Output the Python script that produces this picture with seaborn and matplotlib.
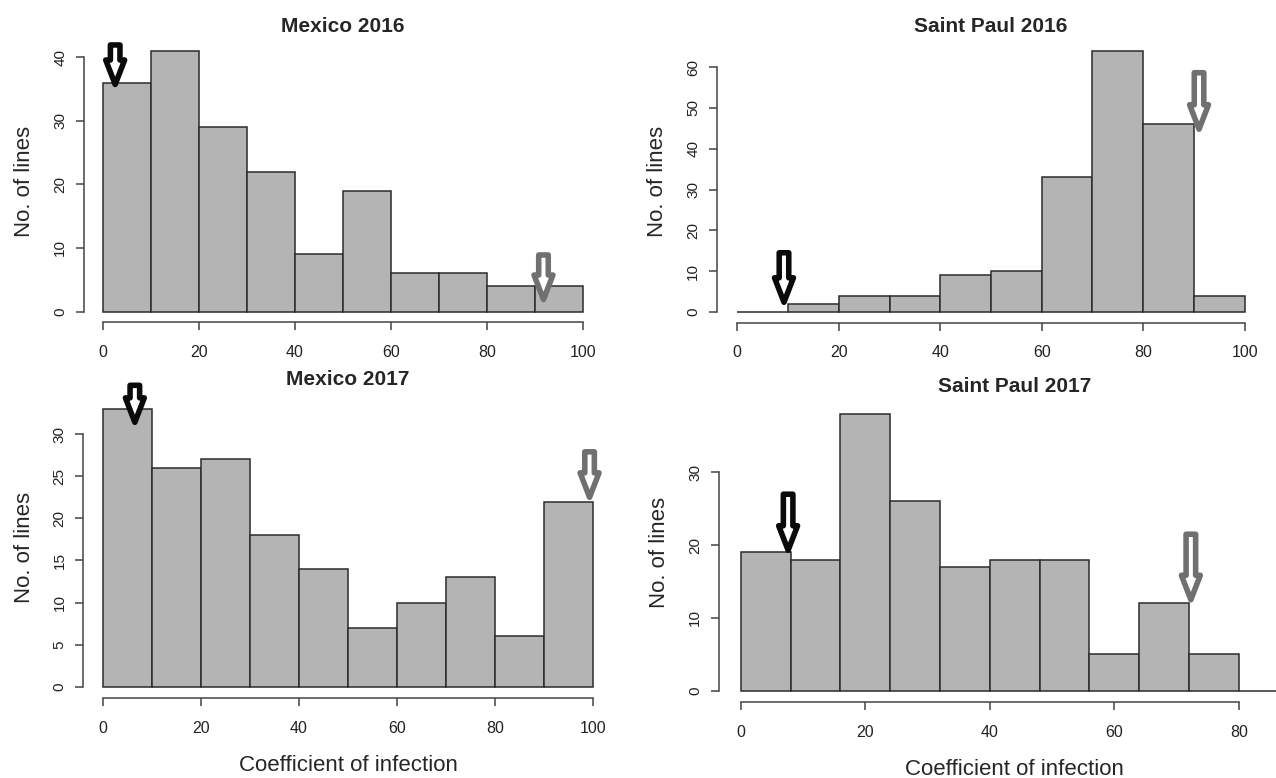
import numpy as np
import pandas as pd
import matplotlib
matplotlib.use('Agg')
import matplotlib.pyplot as plt
import seaborn as sns

# Количество линий по интервалам коэффициента заражения
mx16_counts = [36, 41, 29, 22, 9, 19, 6, 6, 4, 4]
sp16_counts = [0, 2, 4, 4, 9, 10, 33, 64, 46, 4]
mx17_counts = [33, 26, 27, 18, 14, 7, 10, 13, 6, 22]
sp17_counts = [19, 18, 38, 26, 17, 18, 18, 5, 12, 5, 0]

# ширина интервала для каждой панели
bin_widths = [10, 10, 10, 8]
titles = ["Mexico 2016", "Saint Paul 2016", "Mexico 2017", "Saint Paul 2017"]

# стрелки: (x острия, y острия, длина в пикселях)
mx16_arrows = [(2.5, 35.7, 39.5), (91.8, 1.9, 44.5)]
sp16_arrows = [(9.2, 2.4, 49.5), (91.0, 44.8, 56.5)]
mx17_arrows = [(6.5, 31.4, 37), (99.3, 22.5, 45.5)]
sp17_arrows = [(7.6, 19.3, 56), (72.3, 12.5, 65.5)]

# положение областей рисования в пикселях: left, right, top, bottom
W, H = 1276, 778
boxes = [(84, 602, 40.3, 322), (717, 1265, 40.4, 322.5),
         (83.4, 612.6, 397.7, 698), (718.9, 1310.5, 403, 701.8)]
y_steps = [10, 10, 5, 10]
x_steps = [20, 20, 20, 20]
title_pads = [6, 6, 9, 8]

sns.set_theme(style="ticks")
plt.rcParams['font.family'] = ['Liberation Sans', 'DejaVu Sans']

fig = plt.figure(figsize=(W / 100, H / 100), dpi=100)

all_counts = [mx16_counts, sp16_counts, mx17_counts, sp17_counts]
all_arrows = [mx16_arrows, sp16_arrows, mx17_arrows, sp17_arrows]
arrow_colors = ['#0a0a0a', '#707070']

for i in range(4):
    counts = np.array(all_counts[i], dtype=float)
    w = bin_widths[i]
    edges = np.arange(len(counts) + 1) * w
    df = pd.DataFrame({"mid": edges[:-1] + w / 2, "n": counts})
    l, r, t, b = boxes[i]
    ax = fig.add_axes([l / W, 1 - b / H, (r - l) / W, (b - t) / H])

    sns.histplot(data=df, x="mid", weights="n", bins=list(edges), ax=ax, color='#b4b4b4',
                 edgecolor='#2b2b2b', linewidth=1.1, alpha=1)

    # как в R: 4% запаса по краям
    xr = edges[-1] - edges[0]
    ax.set_xlim(edges[0] - 0.04 * xr, edges[-1] + 0.04 * xr)
    ymax = counts.max()
    ax.set_ylim(-0.04 * ymax, ymax * 1.04)
    ax.set_xticks(np.arange(0, edges[-1] + 1, x_steps[i]))
    ax.set_yticks(np.arange(0, ymax + 1, y_steps[i]))
    sns.despine(ax=ax, trim=True)
    for s in ['left', 'bottom']:
        ax.spines[s].set_color('#444444')
        ax.spines[s].set_linewidth(1.1)
    ax.tick_params(axis='both', length=6, width=1.1, color='#444444', labelcolor='#222222')
    ax.tick_params(axis='x', pad=10.5, labelsize=11.5)
    ax.tick_params(axis='y', pad=6, labelsize=11)
    plt.setp(ax.get_yticklabels(), rotation=90, va='center')

    ax.set_title(titles[i], fontsize=15, fontweight='bold', pad=title_pads[i])
    ax.set_ylabel("No. of lines", fontsize=16, labelpad=13)
    if i >= 2:
        ax.set_xlabel("Coefficient of infection", fontsize=16, labelpad=14)
    else:
        ax.set_xlabel("")

    for (xa, ya, ln), col in zip(all_arrows[i], arrow_colors):
        ax.annotate('', xy=(xa, ya), xytext=(0, ln / 1.389), textcoords='offset points',
                    arrowprops=dict(arrowstyle='simple,head_length=1.1,head_width=0.85,tail_width=0.43',
                                    mutation_scale=16, fc='white', ec=col, lw=4,
                                    shrinkA=0, shrinkB=0, joinstyle='round'))

fig.savefig('out.png', dpi=100)
